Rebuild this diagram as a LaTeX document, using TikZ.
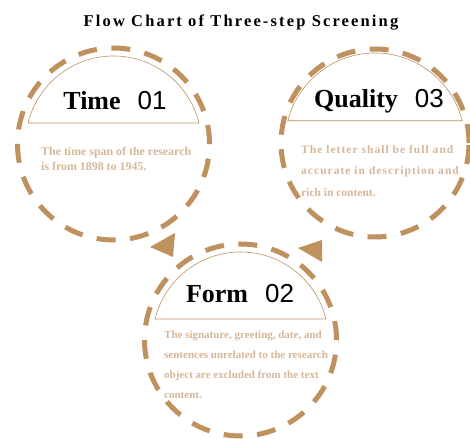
\documentclass[tikz,border=0pt]{standalone}
\usepackage{fontspec}
\setmainfont{Liberation Serif}
\newfontfamily\numfont{Liberation Sans}
\definecolor{tan}{RGB}{191,145,95}
\definecolor{lighttan}{RGB}{214,182,152}

\begin{document}
\begin{tikzpicture}[x=1pt, y=1pt,
  ring/.style={color=tan, line width=5pt, dash pattern=on 19pt off 14.5pt},
  dome/.style={color=tan, line width=0.6pt},
  head/.style={anchor=base, inner sep=0pt, font=\bfseries\fontsize{26}{26}\selectfont},
  body/.style={anchor=north west, inner sep=0pt, align=left, text=lighttan}]
\useasboundingbox (0,0) rectangle (470,438);
% title
\node [anchor=base, inner sep=0pt, font=\bfseries\fontsize{16.5}{16.5}\selectfont\addfontfeature{LetterSpace=13}] (title) at (241,411) {Flow Chart of Three-step Screening};
% dashed rings
\draw [ring] (113.5,294) circle (96);
\draw [ring] (375,295) circle (94);
\draw [ring] (240.5,98) circle (96);
% domes over the headings
\draw [dome] (113.5,294) ++(13.8:88) arc [start angle=13.8, end angle=166.2, radius=88] -- cycle;
\draw [dome] (375,295) ++(14.3:90) arc [start angle=14.3, end angle=165.7, radius=90] -- cycle;
\draw [dome] (240.5,98) ++(13.8:88) arc [start angle=13.8, end angle=166.2, radius=88] -- cycle;
% headings
\node [head] (time) at (115,328) {Time\hspace{17pt}{\numfont\mdseries 01}};
\node [head] (quality) at (379,330) {Quality\hspace{17pt}{\numfont\mdseries 03}};
\node [head] (form) at (240,135) {Form\hspace{17pt}{\numfont\mdseries 02}};
% texts
\node [body, font=\bfseries\fontsize{11.9}{15}\selectfont] (timetext) at (41,291)
  {The time span of the research\\is from 1898 to 1945.};
\node [body, font=\bfseries\fontsize{11.5}{21.5}\selectfont] (qualitytext) at (301,293)
  {{\addfontfeature{LetterSpace=9}The letter shall be full and}\\
   {\addfontfeature{LetterSpace=9}accurate in description and}\\rich in content.};
\node [body, font=\bfseries\fontsize{11}{20}\selectfont] (formtext) at (164,107)
  {The signature, greeting, date, and\\sentences unrelated to the research\\
   object are excluded from the text\\content.};
% arrow heads
\fill [color=tan] (175,205) -- (150,191) -- (173,181) -- cycle;
\fill [color=tan] (322,198) -- (298,190) -- (322,176) -- cycle;
\end{tikzpicture}
\end{document}
